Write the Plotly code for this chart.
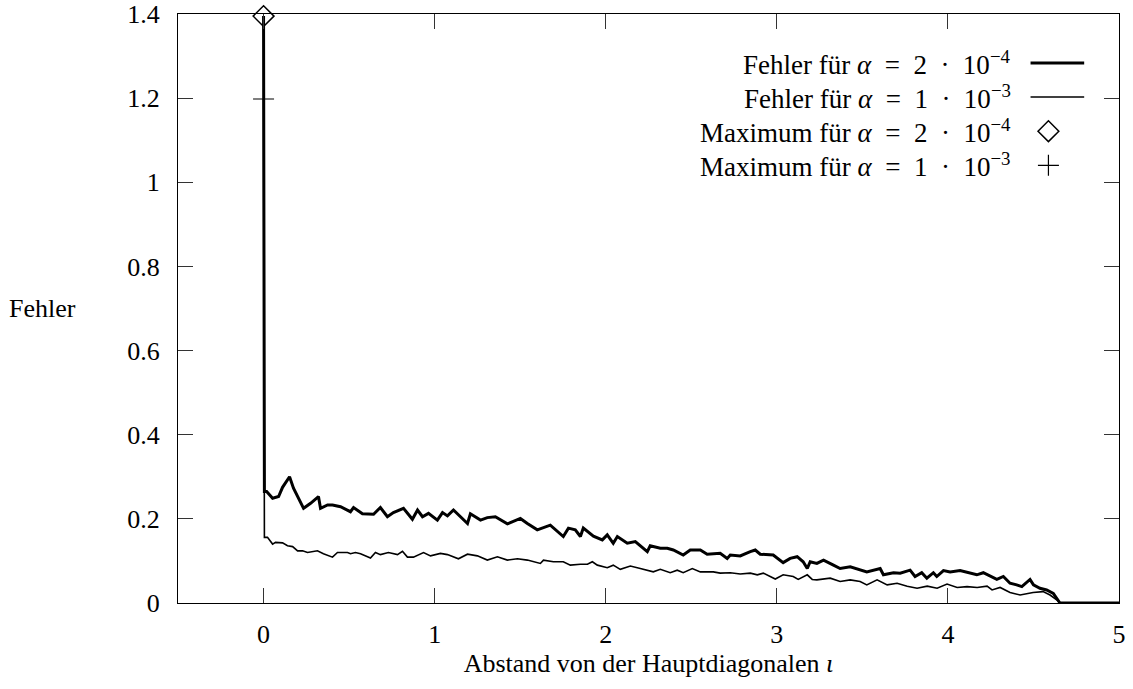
import plotly.graph_objects as go

# Fehler für alpha = 2e-4 (thick line)
x_a = [0, 0.005, 0.018, 0.053, 0.088, 0.111, 0.152, 0.175, 0.234, 0.275, 0.321, 0.333, 0.374,
       0.403, 0.450, 0.508, 0.526, 0.578, 0.643, 0.683, 0.724, 0.759, 0.818, 0.870, 0.900, 0.929,
       0.964, 1.016, 1.046, 1.075, 1.110, 1.192, 1.209, 1.268, 1.308, 1.355, 1.425, 1.501, 1.542,
       1.600, 1.676, 1.752, 1.782, 1.822, 1.852, 1.869, 1.928, 1.980, 2.009, 2.044, 2.068, 2.126,
       2.173, 2.243, 2.260, 2.319, 2.360, 2.395, 2.453, 2.494, 2.553, 2.593, 2.669, 2.710, 2.728,
       2.786, 2.845, 2.874, 2.903, 2.979, 3.037, 3.078, 3.119, 3.154, 3.178, 3.195, 3.234, 3.273,
       3.331, 3.370, 3.429, 3.487, 3.526, 3.604, 3.623, 3.682, 3.721, 3.779, 3.808, 3.847, 3.877,
       3.915, 3.935, 3.974, 4.013, 4.071, 4.130, 4.169, 4.207, 4.247, 4.286, 4.324, 4.363, 4.402,
       4.432, 4.480, 4.500, 4.538, 4.577, 4.616, 4.646, 4.655, 5.0]
y_a = [1.395, 0.265, 0.265, 0.249, 0.253, 0.275, 0.300, 0.273, 0.225, 0.237, 0.253, 0.225, 0.233,
       0.233, 0.229, 0.217, 0.227, 0.212, 0.211, 0.227, 0.205, 0.215, 0.225, 0.199, 0.221, 0.205,
       0.213, 0.197, 0.215, 0.207, 0.221, 0.189, 0.212, 0.197, 0.203, 0.205, 0.188, 0.201, 0.189,
       0.174, 0.185, 0.158, 0.178, 0.174, 0.158, 0.178, 0.159, 0.150, 0.162, 0.142, 0.158, 0.142,
       0.146, 0.122, 0.136, 0.130, 0.130, 0.126, 0.114, 0.126, 0.126, 0.116, 0.118, 0.106, 0.114,
       0.112, 0.122, 0.126, 0.116, 0.114, 0.096, 0.106, 0.110, 0.098, 0.082, 0.098, 0.094, 0.102,
       0.090, 0.082, 0.086, 0.078, 0.074, 0.082, 0.067, 0.072, 0.071, 0.078, 0.063, 0.072, 0.059,
       0.072, 0.063, 0.077, 0.074, 0.077, 0.072, 0.067, 0.072, 0.063, 0.056, 0.063, 0.047, 0.043,
       0.039, 0.056, 0.043, 0.035, 0.031, 0.023, 0.003, 0.0, 0.0]

# Fehler für alpha = 1e-3 (thin line)
x_b = [0, 0.005, 0.023, 0.053, 0.070, 0.111, 0.140, 0.170, 0.199, 0.228, 0.257, 0.315, 0.350,
       0.403, 0.432, 0.491, 0.508, 0.537, 0.567, 0.625, 0.654, 0.683, 0.730, 0.783, 0.812, 0.841,
       0.876, 0.935, 0.976, 1.034, 1.075, 1.139, 1.192, 1.250, 1.308, 1.367, 1.425, 1.484, 1.542,
       1.577, 1.618, 1.636, 1.694, 1.752, 1.793, 1.852, 1.893, 1.922, 1.951, 2.009, 2.044, 2.085,
       2.144, 2.202, 2.278, 2.319, 2.377, 2.418, 2.453, 2.506, 2.553, 2.629, 2.669, 2.728, 2.786,
       2.845, 2.886, 2.921, 2.991, 3.037, 3.096, 3.125, 3.178, 3.207, 3.234, 3.312, 3.370, 3.429,
       3.487, 3.526, 3.586, 3.645, 3.703, 3.762, 3.820, 3.879, 3.937, 3.995, 4.054, 4.112, 4.171,
       4.229, 4.258, 4.305, 4.363, 4.422, 4.498, 4.556, 4.597, 4.638, 4.655, 5.0]
y_b = [1.198, 0.156, 0.156, 0.140, 0.144, 0.143, 0.136, 0.134, 0.124, 0.124, 0.120, 0.124, 0.117,
       0.109, 0.120, 0.120, 0.117, 0.120, 0.117, 0.107, 0.120, 0.115, 0.120, 0.115, 0.123, 0.109,
       0.109, 0.120, 0.112, 0.118, 0.115, 0.105, 0.116, 0.112, 0.102, 0.110, 0.102, 0.105, 0.102,
       0.098, 0.094, 0.102, 0.098, 0.098, 0.090, 0.092, 0.092, 0.098, 0.090, 0.084, 0.090, 0.080,
       0.088, 0.082, 0.074, 0.080, 0.072, 0.078, 0.072, 0.082, 0.074, 0.074, 0.071, 0.072, 0.069,
       0.071, 0.067, 0.071, 0.057, 0.067, 0.063, 0.056, 0.067, 0.056, 0.055, 0.059, 0.051, 0.055,
       0.051, 0.043, 0.055, 0.043, 0.047, 0.040, 0.035, 0.040, 0.035, 0.045, 0.037, 0.039, 0.037,
       0.040, 0.031, 0.037, 0.025, 0.019, 0.025, 0.027, 0.019, 0.007, 0.0, 0.0]

# Maxima
max_a_x, max_a_y = [0.0], [1.395]
max_b_x, max_b_y = [0.0], [1.198]

x_ticks = [0, 1, 2, 3, 4, 5]
y_ticks = [0, 0.2, 0.4, 0.6, 0.8, 1, 1.2, 1.4]

SP = "\u2002"
legend_labels = [
    f"Fehler für <i>α</i>{SP}={SP}2{SP}·{SP}10<sup>−4</sup>",
    f"Fehler für <i>α</i>{SP}={SP}1{SP}·{SP}10<sup>−3</sup>",
    f"Maximum für <i>α</i>{SP}={SP}2{SP}·{SP}10<sup>−4</sup>",
    f"Maximum für <i>α</i>{SP}={SP}1{SP}·{SP}10<sup>−3</sup>",
]

FONT = "Liberation Serif"
FS = 26
LFS = 27

fig = go.Figure()
fig.add_trace(go.Scatter(x=x_a, y=y_a, mode="lines", line=dict(color="black", width=3),
                         showlegend=False))
fig.add_trace(go.Scatter(x=x_b, y=y_b, mode="lines", line=dict(color="black", width=1.6),
                         showlegend=False))
fig.add_trace(go.Scatter(x=max_a_x, y=max_a_y, mode="markers", cliponaxis=False,
                         marker=dict(symbol="diamond-open", size=16, color="black",
                                     line=dict(width=1.5, color="black")),
                         showlegend=False))
fig.add_trace(go.Scatter(x=max_b_x, y=max_b_y, mode="markers", cliponaxis=False,
                         marker=dict(symbol="cross-thin-open", size=15, color="black",
                                     line=dict(width=1.2, color="black")),
                         showlegend=False))

# Legend (gnuplot style: text right-aligned, sample on the right), drawn on an overlay axis
leg_y = [0.917, 0.859, 0.801, 0.743]
for lab, yy in zip(legend_labels, leg_y):
    fig.add_annotation(xref="x2", yref="y2", x=0.887, y=yy, text=lab, showarrow=False,
                       xanchor="right", yanchor="middle",
                       font=dict(family=FONT, size=LFS, color="black"))
fig.add_trace(go.Scatter(x=[0.906, 0.963], y=[leg_y[0]] * 2, mode="lines",
                         line=dict(color="black", width=3), xaxis="x2", yaxis="y2",
                         showlegend=False, hoverinfo="skip"))
fig.add_trace(go.Scatter(x=[0.906, 0.963], y=[leg_y[1]] * 2, mode="lines",
                         line=dict(color="black", width=1.6), xaxis="x2", yaxis="y2",
                         showlegend=False, hoverinfo="skip"))
fig.add_trace(go.Scatter(x=[0.925], y=[leg_y[2]], mode="markers",
                         marker=dict(symbol="diamond-open", size=16, color="black",
                                     line=dict(width=1.5, color="black")),
                         xaxis="x2", yaxis="y2", showlegend=False, hoverinfo="skip"))
fig.add_trace(go.Scatter(x=[0.925], y=[leg_y[3]], mode="markers",
                         marker=dict(symbol="cross-thin-open", size=15, color="black",
                                     line=dict(width=1.2, color="black")),
                         xaxis="x2", yaxis="y2", showlegend=False, hoverinfo="skip"))

# y-axis title, horizontal, on the far left
fig.add_annotation(xref="paper", yref="y", x=0, y=0.70, xshift=-171, text="Fehler",
                   showarrow=False, xanchor="left", yanchor="middle",
                   font=dict(family=FONT, size=FS, color="black"))

axis_common = dict(showgrid=False, zeroline=False, showline=True, linecolor="black",
                   linewidth=1.2, mirror="allticks", ticks="inside", ticklen=15,
                   tickwidth=1, tickcolor="#333333", automargin=False,
                   tickfont=dict(family=FONT, size=FS, color="black"))

fig.update_layout(
    width=1133, height=689,
    margin=dict(l=178, r=14, t=14, b=86, autoexpand=False),
    paper_bgcolor="white", plot_bgcolor="white",
    font=dict(family=FONT, size=FS, color="black"),
    xaxis=dict(range=[-0.5, 5], tickvals=x_ticks, ticklabelstandoff=8,
               title=dict(text="Abstand von der Hauptdiagonalen <i>ι</i>",
                          font=dict(family=FONT, size=FS), standoff=2),
               **axis_common),
    yaxis=dict(range=[0, 1.4], tickvals=y_ticks, ticklabelstandoff=12, **axis_common),
    xaxis2=dict(overlaying="x", range=[0, 1], visible=False, fixedrange=True),
    yaxis2=dict(overlaying="y", range=[0, 1], visible=False, fixedrange=True),
)

fig.write_html("out.html", config={"displayModeBar": False},
               post_script="document.body.style.margin='0px';")
